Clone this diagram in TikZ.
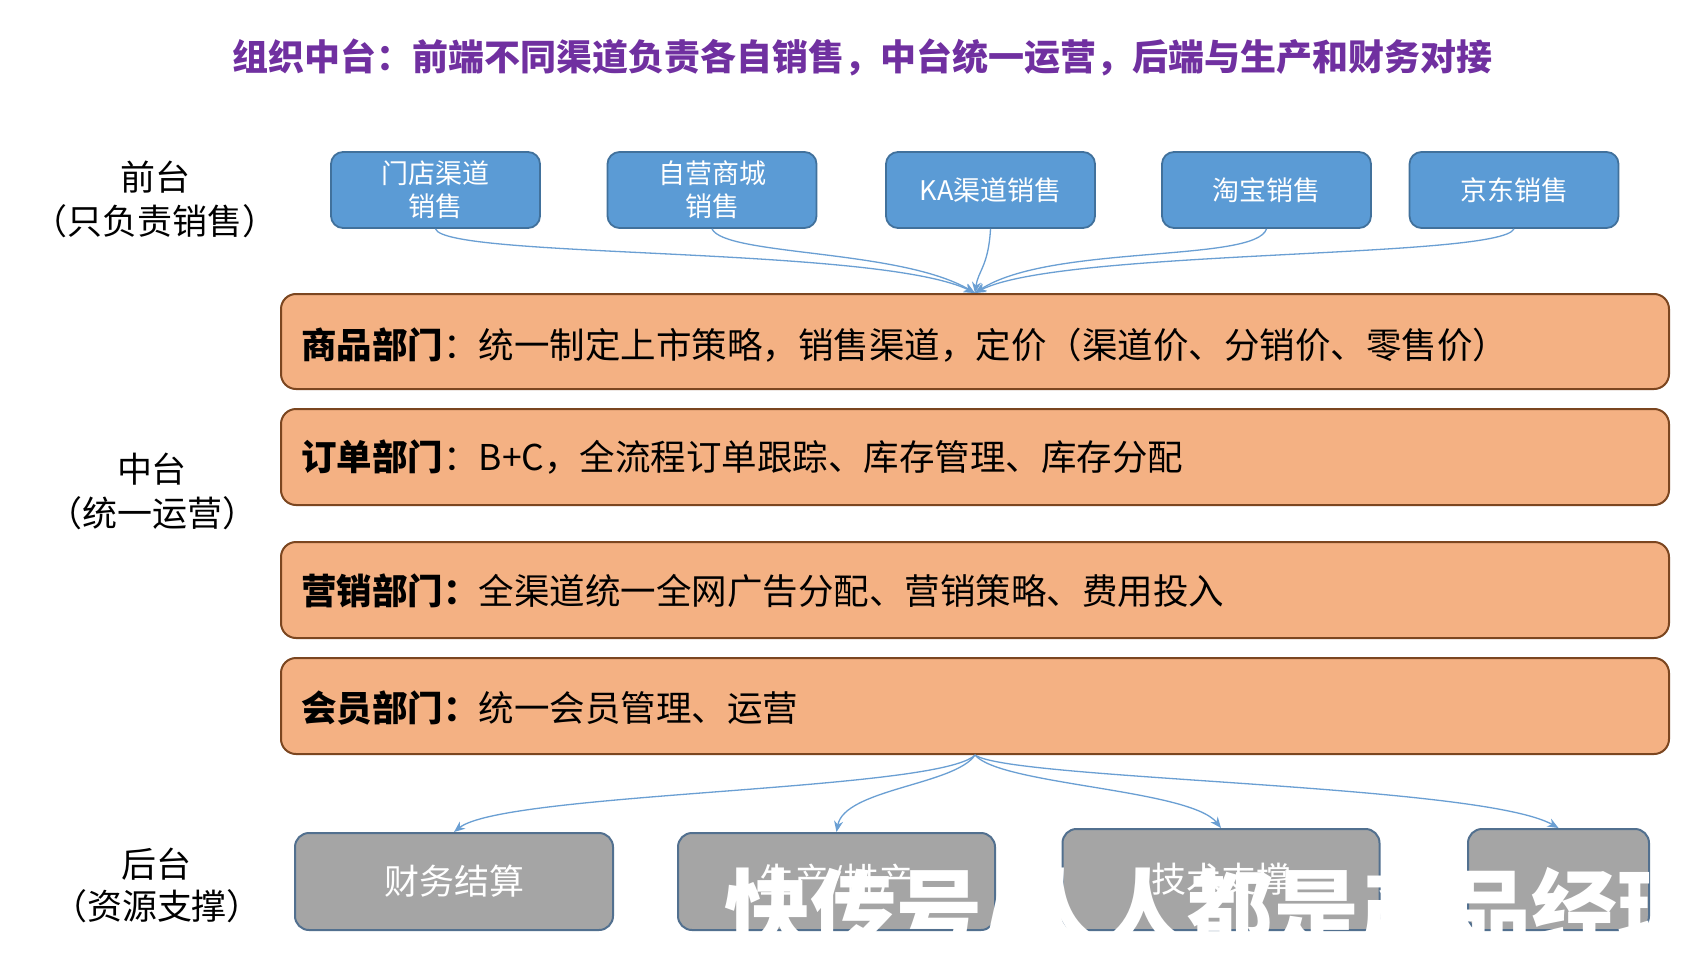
\documentclass[tikz,border=0pt]{standalone}
\usepackage{fontspec}
\setmainfont{Noto Sans CJK SC}[Kerning=Off]
\usetikzlibrary{arrows.meta}
\definecolor{titlepurple}{HTML}{7030A0}
\definecolor{fblue}{HTML}{5B9BD5}
\definecolor{fblueb}{HTML}{41719C}
\definecolor{morange}{HTML}{F4B183}
\definecolor{morangeb}{HTML}{7B4620}
\definecolor{bgray}{HTML}{A5A5A5}
\definecolor{bgrayb}{HTML}{52708F}
\definecolor{conn}{HTML}{6A9FD3}
\begin{document}
\begin{tikzpicture}[x=1pt,y=-1pt,
  frontbox/.style={draw=fblueb, fill=fblue, line width=1.8pt, rounded corners=12pt, minimum width=209pt, minimum height=76pt, inner sep=0pt, text=white, align=center, font=\fontsize{27}{33}\selectfont},
  midbar/.style={draw=morangeb, fill=morange, line width=2pt, rounded corners=15pt, minimum width=1388pt, minimum height=96pt, inner sep=0pt},
  backbox/.style={draw=bgrayb, fill=bgray, line width=2pt, rounded corners=14pt, inner sep=0pt, text=white, font=\fontsize{35}{40}\selectfont},
  bartext/.style={anchor=base west, inner sep=0pt, font=\fontsize{35.5}{40}\selectfont},
  layerlabel/.style={align=center, inner sep=0pt, font=\fontsize{35}{44}\selectfont},
  link/.style={draw=conn, line width=1.3pt, -{Stealth[length=11pt,width=9pt]}},
]
\useasboundingbox (0,0) rectangle (1700,958);
\fill[white] (0,0) rectangle (1700,958);

% title
\node[text=titlepurple, inner sep=0pt, font=\fontsize{36}{40}\selectfont\bfseries] (title) at (862,57)
  {组织中台：前端不同渠道负责各自销售，中台统一运营，后端与生产和财务对接};

% layer labels
\node[layerlabel] (lfront) at (155,199) {前台\\（只负责销售）};
\node[layerlabel] (lmid) at (152,491) {中台\\（统一运营）};
\node[layerlabel, font=\fontsize{35}{42}\selectfont] (lback) at (157,885) {后台\\（资源支撑）};

% front boxes
\node[frontbox] (f1) at (435.5,190) {门店渠道\\销售};
\node[frontbox] (f2) at (712,190) {自营商城\\销售};
\node[frontbox] (f3) at (990.5,190) {KA渠道销售};
\node[frontbox] (f4) at (1266.5,190) {淘宝销售};
\node[frontbox] (f5) at (1514,190) {京东销售};

% middle bars
\node[midbar, minimum height=95pt] (m1) at (975,341.5) {};
\node[midbar] (m2) at (975,457) {};
\node[midbar] (m3) at (975,590) {};
\node[midbar] (m4) at (975,706) {};
\node[bartext] (t1) at (301,358) {{\bfseries 商品部门}：统一制定上市策略，销售渠道，定价（渠道价、分销价、零售价）};
\node[bartext] (t2) at (301,470.5) {{\bfseries 订单部门}：B+C，全流程订单跟踪、库存管理、库存分配};
\node[bartext] (t3) at (301,604) {{\bfseries 营销部门：}全渠道统一全网广告分配、营销策略、费用投入};
\node[bartext] (t4) at (301,721) {{\bfseries 会员部门：}统一会员管理、运营};

% back boxes
\node[backbox, minimum width=318pt, minimum height=97pt] (g1) at (454,881.5) {财务结算};
\node[backbox, minimum width=317pt, minimum height=97pt] (g2) at (836.5,881.5) {生产/排产};
\node[backbox, minimum width=317pt, minimum height=101pt] (g3) at (1221,879.5) {技术支撑};
\node[backbox, minimum width=181pt, minimum height=101pt] (g4) at (1558.5,879.5) {};

% connectors front -> middle
\draw[link] (f1.south) .. controls +(10,30) and +(-96,-47) .. (m1.north);
\draw[link] (f2.south) .. controls +(13,27) and +(-75,-44) .. (m1.north);
\draw[link] (f3.south) .. controls +(-2,37) and +(3,-22) .. (m1.north);
\draw[link] (f4.south) .. controls +(-11,34) and +(75,-49) .. (m1.north);
\draw[link] (f5.south) .. controls +(-14,30) and +(85,-44) .. (m1.north);

% connectors middle -> back
\draw[link] (m4.south) .. controls +(-35,36) and +(50,-40) .. (g1.north);
\draw[link] (m4.south) .. controls +(-20,30) and +(8,-43) .. (g2.north);
\draw[link] (m4.south) .. controls +(25,30) and +(-31,-39) .. (g3.north);
\draw[link] (m4.south) .. controls +(35,25) and +(-78,-44) .. (g4.north);

% watermark
\node[anchor=base west, inner sep=0pt, text=white, font=\fontsize{86}{90}\selectfont\bfseries] (wm) at (724,941) {快传号/人人都是产品经理};
\end{tikzpicture}
\end{document}
